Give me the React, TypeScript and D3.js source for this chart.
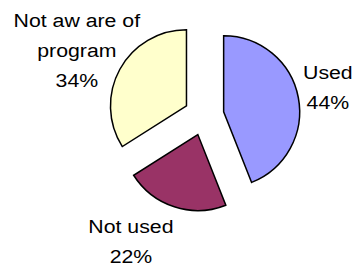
import * as d3 from "d3";
import { useEffect, useRef } from "react";

const categories = ["Used", "Not used", "Not aware of program"];
const values = [44, 22, 34];
const labelLines = [["Used", "44%"], ["Not used", "22%"], ["Not aw are of", "program", "34%"]];
const colors = ["#9999FF", "#993366", "#FFFFCC"];

// small nudges so the labels sit where the original chart put them
const labelNudge = [
  [6, 1],
  [-36, 18],
  [-22, -1],
];

const App = () => {
  const svgRef = useRef(null);

  const width = 354;
  const height = 268;

  useEffect(() => {
    const svg = d3.select(svgRef.current);
    svg.selectAll("*").remove();

    const cx = 204;
    const cy = 115.5;
    const radius = 76;
    const explode = 20;
    const labelRadius = 120;
    const lineGap = 30;

    const data = categories.map((c, i) => ({ name: c, value: values[i], idx: i }));

    const pie = d3
      .pie<any>()
      .sort(null)
      .value((d: any) => d.value);

    const arc = d3.arc<any>().innerRadius(0).outerRadius(radius);

    const arcs = pie(data);

    const g = svg.append("g").attr("transform", "translate(" + cx + "," + cy + ")");

    g.selectAll("path")
      .data(arcs)
      .enter()
      .append("path")
      .attr("d", arc as any)
      .attr("transform", (d: any) => {
        const mid = (d.startAngle + d.endAngle) / 2;
        return "translate(" + explode * Math.sin(mid) + "," + -explode * Math.cos(mid) + ")";
      })
      .attr("fill", (d: any) => colors[d.data.idx])
      .attr("stroke", "#000")
      .attr("stroke-width", 1.5)
      .attr("stroke-linejoin", "miter");

    arcs.forEach((d: any) => {
      const i = d.data.idx;
      const mid = (d.startAngle + d.endAngle) / 2;
      const lx = labelRadius * Math.sin(mid) + labelNudge[i][0];
      const ly = -labelRadius * Math.cos(mid) + labelNudge[i][1];
      const lines = labelLines[i];
      lines.forEach((t, j) => {
        const y = ly + (j - (lines.length - 1) / 2) * lineGap;
        g.append("g")
          .attr("transform", "translate(" + lx + "," + y + ") scale(1.12,1)")
          .append("text")
          .attr("text-anchor", "middle")
          .attr("font-family", "'Liberation Sans', Arial, sans-serif")
          .attr("font-size", 19)
          .attr("fill", "#000")
          .text(t);
      });
    });
  }, []);

  return (
    <svg
      ref={svgRef}
      width={width}
      height={height}
      style={{ position: "absolute", left: 0, top: 0, background: "#fff" }}
    />
  );
};

export default App;
